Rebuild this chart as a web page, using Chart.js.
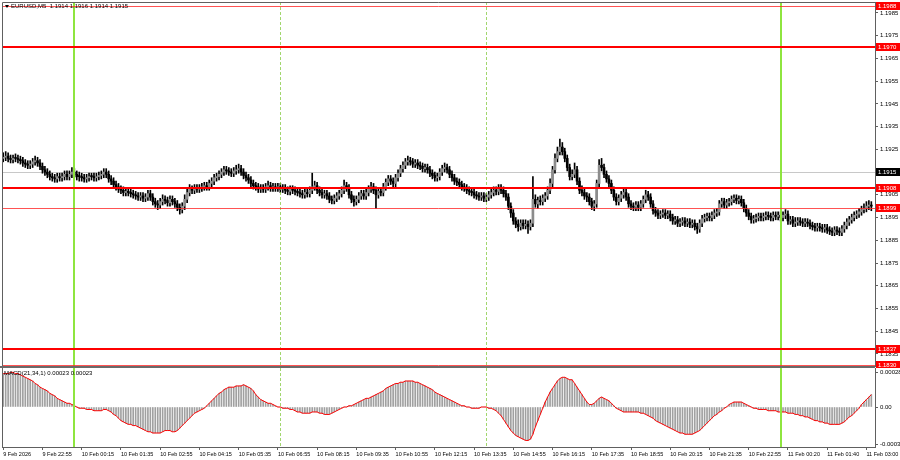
<!DOCTYPE html>
<html>
<head>
<meta charset="utf-8">
<script src="https://cdn.jsdelivr.net/npm/chart.js@4.4.1/dist/chart.umd.min.js"></script>
<style>
  html, body { margin: 0; padding: 0; background: #fff; }
  #wrap { position: relative; width: 900px; height: 460px; overflow: hidden; }
  #price-box { position: absolute; left: 0; top: 0; width: 900px; height: 368px; }
  #macd-box { position: absolute; left: 0; top: 366px; width: 900px; height: 94px; }
</style>
</head>
<body>
<div id="wrap">
  <div id="price-box"><canvas id="price-chart"></canvas></div>
  <div id="macd-box"><canvas id="macd-chart"></canvas></div>
</div>
<script>
const timeLabels = ['9 Feb 2026', '9 Feb 22:55', '10 Feb 00:15', '10 Feb 01:35', '10 Feb 02:55', '10 Feb 04:15',
    '10 Feb 05:35', '10 Feb 06:55', '10 Feb 08:15', '10 Feb 09:35', '10 Feb 10:55', '10 Feb 12:15', '10 Feb 13:35',
    '10 Feb 14:55', '10 Feb 16:15', '10 Feb 17:35', '10 Feb 18:55', '10 Feb 20:15', '10 Feb 21:35', '10 Feb 22:55',
    '11 Feb 00:20', '11 Feb 01:40', '11 Feb 03:00'];
const barsPerLabel = 16;

const priceTicks = [1.1835, 1.1845, 1.1855, 1.1865, 1.1875, 1.1885, 1.1895, 1.1905, 1.1915, 1.1925,
    1.1935, 1.1945, 1.1955, 1.1965, 1.1975, 1.1985];
const levels = [1.1988, 1.1970, 1.1908, 1.1899, 1.1837, 1.1830];
const lastPrice = 1.1915;
const midnightBars = [29, 317];
const sessionBars = [113, 197];

const macdTicks = [0.00028, 0, -0.0003];
const macdTickLabels = ['0.00028', '0.00', '-0.0003'];

const symbolTitle = 'EURUSD,M5  1.1914 1.1916 1.1914 1.1915';
const macdTitle = 'MACD(21,34,1) 0.00023 0.00023';

// M5 candles, 9 Feb 21:35 .. 11 Feb 03:10
const open = [
    1.1921, 1.19215, 1.1922, 1.1921, 1.19205, 1.1921, 1.1921, 1.19205, 1.192, 1.1919, 1.19185, 1.1918, 1.19185, 1.19195, 1.192, 1.1919,
    1.19175, 1.1916, 1.1915, 1.1914, 1.1913, 1.19125, 1.1912, 1.1913, 1.19125, 1.1913, 1.1914, 1.1913, 1.1914, 1.1915, 1.1914, 1.1913,
    1.1913, 1.19125, 1.1912, 1.19125, 1.1913, 1.1913, 1.19125, 1.1913, 1.19135, 1.1914, 1.1915, 1.1914, 1.1912, 1.1911, 1.19095, 1.19085,
    1.19075, 1.1907, 1.1906, 1.19065, 1.1906, 1.19055, 1.1905, 1.19045, 1.1904, 1.19045, 1.19035, 1.1904, 1.19055, 1.1904, 1.1902, 1.1901,
    1.19005, 1.1902, 1.1903, 1.19025, 1.19015, 1.1903, 1.1902, 1.1901, 1.18995, 1.18985, 1.19, 1.1903, 1.1906, 1.19075, 1.1907, 1.1908,
    1.19075, 1.1908, 1.19085, 1.1909, 1.19085, 1.191, 1.1911, 1.19125, 1.1913, 1.1914, 1.1915, 1.1916, 1.19155, 1.1915, 1.19145, 1.19155,
    1.1916, 1.19165, 1.1915, 1.19135, 1.19125, 1.19115, 1.191, 1.1909, 1.19085, 1.19075, 1.1908, 1.19075, 1.19085, 1.1909, 1.1908, 1.19085,
    1.1908, 1.19085, 1.19075, 1.1908, 1.1907, 1.19065, 1.19075, 1.1907, 1.19065, 1.1906, 1.19055, 1.1905, 1.1906, 1.19055, 1.1907, 1.19085,
    1.1909, 1.1907, 1.1906, 1.1905, 1.19055, 1.19045, 1.1903, 1.19025, 1.19035, 1.19045, 1.19055, 1.1907, 1.1909, 1.1908, 1.1905, 1.1903,
    1.1902, 1.1903, 1.19045, 1.19055, 1.19045, 1.1906, 1.19075, 1.19085, 1.1907, 1.1905, 1.19065, 1.1906, 1.19085, 1.19105, 1.1912, 1.1911,
    1.191, 1.19125, 1.19145, 1.19165, 1.1918, 1.19195, 1.192, 1.19195, 1.19185, 1.1919, 1.1918, 1.19175, 1.19165, 1.1917, 1.1916, 1.19145,
    1.19135, 1.19125, 1.1913, 1.1915, 1.19165, 1.1917, 1.1916, 1.1914, 1.19125, 1.1911, 1.19105, 1.19095, 1.19085, 1.1908, 1.1907, 1.19065,
    1.1906, 1.1905, 1.19045, 1.1904, 1.19045, 1.19035, 1.1904, 1.1905, 1.1906, 1.1907, 1.19065, 1.1908, 1.1907, 1.19055, 1.1904, 1.19,
    1.1897, 1.18935, 1.1892, 1.1891, 1.18925, 1.18915, 1.1892, 1.1891, 1.18925, 1.1903, 1.1901, 1.19025, 1.1902, 1.19035, 1.19045, 1.1907,
    1.191, 1.1916, 1.1921, 1.1924, 1.1926, 1.1924, 1.1921, 1.1917, 1.1913, 1.1914, 1.1916, 1.1911, 1.1907, 1.1906, 1.19045, 1.1904,
    1.1902, 1.19, 1.1901, 1.191, 1.1918, 1.1917, 1.1914, 1.1912, 1.191, 1.1907, 1.1904, 1.1902, 1.19035, 1.1905, 1.1906, 1.1904,
    1.1901, 1.19, 1.18995, 1.19005, 1.18995, 1.1901, 1.1903, 1.1905, 1.1904, 1.1901, 1.1898, 1.1897, 1.1896, 1.18965, 1.1897, 1.1896,
    1.18965, 1.1895, 1.18935, 1.1894, 1.18925, 1.1893, 1.18935, 1.18925, 1.1893, 1.1892, 1.18925, 1.1891, 1.189, 1.18925, 1.18945, 1.1895,
    1.18955, 1.1895, 1.1896, 1.1897, 1.18975, 1.1901, 1.1902, 1.19005, 1.19015, 1.1902, 1.1903, 1.19035, 1.19025, 1.1903, 1.19015, 1.1899,
    1.1897, 1.18955, 1.1894, 1.18945, 1.1895, 1.18955, 1.1895, 1.18955, 1.1896, 1.18955, 1.1895, 1.1896, 1.18955, 1.1896, 1.1895, 1.1896,
    1.18965, 1.18935, 1.1894, 1.18925, 1.1893, 1.18935, 1.1893, 1.18925, 1.1893, 1.18925, 1.18915, 1.1891, 1.18905, 1.1891, 1.18905, 1.189,
    1.18905, 1.18895, 1.1889, 1.18885, 1.18895, 1.1889, 1.18885, 1.189, 1.18915, 1.1893, 1.1894, 1.1895, 1.1896, 1.18965, 1.18975, 1.18985,
    1.1899, 1.19, 1.19005
];
const high = [
    1.19235, 1.1924, 1.19235, 1.19225, 1.19225, 1.1923, 1.19225, 1.1922, 1.19215, 1.19205, 1.192, 1.192, 1.1921, 1.1922, 1.19215, 1.19205,
    1.1919, 1.19175, 1.19165, 1.19155, 1.19145, 1.1914, 1.19145, 1.19145, 1.19145, 1.19155, 1.19155, 1.19155, 1.1917, 1.19165, 1.19155, 1.1915,
    1.19145, 1.1914, 1.1914, 1.19145, 1.19145, 1.19145, 1.19145, 1.1915, 1.19155, 1.19165, 1.19165, 1.19155, 1.19135, 1.19125, 1.1911, 1.191,
    1.1909, 1.19085, 1.1908, 1.1908, 1.19075, 1.1907, 1.19065, 1.1906, 1.1906, 1.1906, 1.19055, 1.1907, 1.1907, 1.19055, 1.19035, 1.19025,
    1.19035, 1.1905, 1.19045, 1.1904, 1.19045, 1.19045, 1.19035, 1.19025, 1.1901, 1.19015, 1.1905, 1.1908, 1.19095, 1.1909, 1.19095, 1.19095,
    1.19095, 1.191, 1.19105, 1.19105, 1.19115, 1.19125, 1.1914, 1.19145, 1.19155, 1.19165, 1.19175, 1.19175, 1.1917, 1.19165, 1.1917, 1.1918,
    1.19185, 1.1918, 1.19165, 1.1915, 1.1914, 1.1913, 1.19115, 1.19105, 1.191, 1.19095, 1.19095, 1.191, 1.1911, 1.19105, 1.191, 1.191,
    1.191, 1.191, 1.19095, 1.19095, 1.19085, 1.1909, 1.1909, 1.19085, 1.1908, 1.19075, 1.1907, 1.19075, 1.19075, 1.19085, 1.19145, 1.1911,
    1.19105, 1.19085, 1.19075, 1.1907, 1.1907, 1.1906, 1.19045, 1.1905, 1.1906, 1.1907, 1.19085, 1.19115, 1.19105, 1.19095, 1.19065, 1.19045,
    1.19045, 1.1906, 1.1907, 1.1907, 1.19075, 1.1909, 1.19105, 1.191, 1.19085, 1.1908, 1.1908, 1.191, 1.1912, 1.19135, 1.19135, 1.19125,
    1.1914, 1.1916, 1.1918, 1.19195, 1.1921, 1.1922, 1.19215, 1.1921, 1.19205, 1.19205, 1.19195, 1.1919, 1.19185, 1.19185, 1.19175, 1.1916,
    1.1915, 1.19145, 1.19165, 1.1918, 1.1919, 1.19185, 1.19175, 1.19155, 1.1914, 1.19125, 1.1912, 1.1911, 1.191, 1.19095, 1.19085, 1.1908,
    1.19075, 1.19065, 1.1906, 1.1906, 1.1906, 1.19055, 1.19065, 1.19075, 1.19085, 1.19085, 1.19095, 1.19095, 1.19085, 1.1907, 1.19055, 1.19015,
    1.18985, 1.1895, 1.1894, 1.1894, 1.1894, 1.1894, 1.18935, 1.1894, 1.1913, 1.1905, 1.1904, 1.19045, 1.1905, 1.1906, 1.19085, 1.1912,
    1.19175, 1.1923, 1.1926, 1.19295, 1.1928, 1.19255, 1.19225, 1.19185, 1.1916, 1.1919, 1.19175, 1.19125, 1.1909, 1.19075, 1.1906, 1.19055,
    1.19035, 1.19025, 1.19115, 1.19205, 1.1921, 1.19185, 1.19155, 1.19135, 1.19115, 1.19085, 1.19055, 1.1905, 1.19065, 1.19075, 1.19075, 1.19055,
    1.19025, 1.19015, 1.1902, 1.1902, 1.19025, 1.19045, 1.1907, 1.19065, 1.19055, 1.19025, 1.18995, 1.18985, 1.1898, 1.18985, 1.18985, 1.1898,
    1.1898, 1.18965, 1.18955, 1.18955, 1.18945, 1.1895, 1.1895, 1.18945, 1.18945, 1.1894, 1.1894, 1.18925, 1.1894, 1.1896, 1.18965, 1.1897,
    1.1897, 1.18975, 1.18985, 1.1899, 1.19025, 1.19035, 1.19035, 1.1903, 1.19035, 1.19045, 1.1905, 1.1905, 1.19045, 1.19045, 1.1903, 1.19005,
    1.18985, 1.1897, 1.1896, 1.18965, 1.1897, 1.1897, 1.1897, 1.18975, 1.18975, 1.1897, 1.18975, 1.18975, 1.18975, 1.18975, 1.18975, 1.18985,
    1.1898, 1.18955, 1.18955, 1.1895, 1.1895, 1.1895, 1.18945, 1.18945, 1.18945, 1.1894, 1.1893, 1.18925, 1.18925, 1.18925, 1.1892, 1.1892,
    1.1892, 1.1891, 1.18905, 1.1891, 1.1891, 1.18905, 1.18915, 1.1893, 1.18945, 1.18955, 1.18965, 1.18975, 1.1898, 1.1899, 1.19, 1.1901,
    1.1902, 1.19025, 1.1902
];
const low = [
    1.19195, 1.192, 1.19195, 1.1919, 1.1919, 1.19195, 1.1919, 1.19185, 1.19175, 1.1917, 1.19165, 1.19165, 1.1917, 1.1918, 1.19175, 1.1916,
    1.19145, 1.19135, 1.19125, 1.19115, 1.1911, 1.19105, 1.19105, 1.1911, 1.1911, 1.19115, 1.19115, 1.19115, 1.19125, 1.19125, 1.19115, 1.1911,
    1.1911, 1.19105, 1.19105, 1.1911, 1.19115, 1.1911, 1.1911, 1.19115, 1.1912, 1.19125, 1.19125, 1.19105, 1.19095, 1.1908, 1.1907, 1.1906,
    1.19055, 1.19045, 1.19045, 1.19045, 1.1904, 1.19035, 1.1903, 1.19025, 1.19025, 1.1902, 1.1902, 1.19025, 1.19025, 1.19005, 1.18995, 1.18985,
    1.1899, 1.19005, 1.1901, 1.19, 1.19, 1.19005, 1.18995, 1.1898, 1.18965, 1.1897, 1.18985, 1.19015, 1.19045, 1.19055, 1.19055, 1.1906,
    1.1906, 1.19065, 1.1907, 1.1907, 1.1907, 1.19085, 1.19095, 1.1911, 1.19115, 1.19125, 1.19135, 1.1914, 1.19135, 1.1913, 1.1913, 1.1914,
    1.19145, 1.19135, 1.1912, 1.1911, 1.191, 1.19085, 1.19075, 1.1907, 1.1906, 1.1906, 1.1906, 1.1906, 1.1907, 1.19065, 1.19065, 1.19065,
    1.19065, 1.1906, 1.1906, 1.19055, 1.1905, 1.1905, 1.19055, 1.1905, 1.19045, 1.1904, 1.19035, 1.19035, 1.1904, 1.1904, 1.19055, 1.1907,
    1.19055, 1.19045, 1.19035, 1.19035, 1.1903, 1.19015, 1.1901, 1.1901, 1.1902, 1.1903, 1.1904, 1.19055, 1.19065, 1.19035, 1.19015, 1.19,
    1.19005, 1.19015, 1.1903, 1.1903, 1.1903, 1.19045, 1.1906, 1.19055, 1.1899, 1.19035, 1.19045, 1.19045, 1.1907, 1.1909, 1.19095, 1.19085,
    1.19085, 1.1911, 1.1913, 1.1915, 1.19165, 1.1918, 1.1918, 1.1917, 1.1917, 1.19165, 1.1916, 1.1915, 1.1915, 1.19145, 1.1913, 1.1912,
    1.1911, 1.1911, 1.19115, 1.19135, 1.1915, 1.19145, 1.19125, 1.1911, 1.19095, 1.1909, 1.1908, 1.1907, 1.19065, 1.19055, 1.1905, 1.19045,
    1.19035, 1.1903, 1.19025, 1.19025, 1.1902, 1.1902, 1.19025, 1.19035, 1.19045, 1.1905, 1.1905, 1.19055, 1.1904, 1.19025, 1.18985, 1.1895,
    1.1892, 1.18905, 1.1889, 1.18895, 1.189, 1.189, 1.1888, 1.18895, 1.1891, 1.18995, 1.1899, 1.19005, 1.19005, 1.1902, 1.1903, 1.19055,
    1.19085, 1.19145, 1.19195, 1.19225, 1.19225, 1.19195, 1.19155, 1.19115, 1.19115, 1.19125, 1.19095, 1.19055, 1.19045, 1.1903, 1.1902, 1.19005,
    1.18985, 1.1898, 1.18995, 1.19085, 1.19155, 1.19125, 1.19105, 1.19085, 1.19055, 1.19025, 1.19005, 1.19005, 1.1902, 1.19035, 1.19025, 1.18995,
    1.18985, 1.1898, 1.1898, 1.1898, 1.1898, 1.18995, 1.19015, 1.19025, 1.18995, 1.18965, 1.18955, 1.18945, 1.18945, 1.1895, 1.18945, 1.18945,
    1.18935, 1.1892, 1.1892, 1.1891, 1.1891, 1.18915, 1.1891, 1.1891, 1.18905, 1.18905, 1.18895, 1.1888, 1.18885, 1.1891, 1.1893, 1.18935,
    1.18935, 1.18935, 1.18945, 1.18955, 1.1896, 1.18995, 1.1899, 1.1899, 1.19, 1.19005, 1.19015, 1.1901, 1.1901, 1.19, 1.18975, 1.18955,
    1.1894, 1.18925, 1.18925, 1.1893, 1.18935, 1.18935, 1.18935, 1.1894, 1.1894, 1.18935, 1.18935, 1.1894, 1.1894, 1.18935, 1.18935, 1.18945,
    1.1892, 1.1892, 1.1891, 1.1891, 1.18915, 1.18915, 1.1891, 1.1891, 1.1891, 1.189, 1.18895, 1.1889, 1.1889, 1.1889, 1.18885, 1.18885,
    1.1888, 1.18875, 1.1887, 1.1887, 1.18875, 1.1887, 1.1887, 1.18885, 1.189, 1.18915, 1.18925, 1.18935, 1.18945, 1.1895, 1.1896, 1.1897,
    1.18975, 1.18985, 1.1898
];
const close = [
    1.19215, 1.1922, 1.1921, 1.19205, 1.1921, 1.1921, 1.19205, 1.192, 1.1919, 1.19185, 1.1918, 1.19185, 1.19195, 1.192, 1.1919, 1.19175,
    1.1916, 1.1915, 1.1914, 1.1913, 1.19125, 1.1912, 1.1913, 1.19125, 1.1913, 1.1914, 1.1913, 1.1914, 1.1915, 1.1914, 1.1913, 1.1913,
    1.19125, 1.1912, 1.19125, 1.1913, 1.1913, 1.19125, 1.1913, 1.19135, 1.1914, 1.1915, 1.1914, 1.1912, 1.1911, 1.19095, 1.19085, 1.19075,
    1.1907, 1.1906, 1.19065, 1.1906, 1.19055, 1.1905, 1.19045, 1.1904, 1.19045, 1.19035, 1.1904, 1.19055, 1.1904, 1.1902, 1.1901, 1.19005,
    1.1902, 1.1903, 1.19025, 1.19015, 1.1903, 1.1902, 1.1901, 1.18995, 1.18985, 1.19, 1.1903, 1.1906, 1.19075, 1.1907, 1.1908, 1.19075,
    1.1908, 1.19085, 1.1909, 1.19085, 1.191, 1.1911, 1.19125, 1.1913, 1.1914, 1.1915, 1.1916, 1.19155, 1.1915, 1.19145, 1.19155, 1.1916,
    1.19165, 1.1915, 1.19135, 1.19125, 1.19115, 1.191, 1.1909, 1.19085, 1.19075, 1.1908, 1.19075, 1.19085, 1.1909, 1.1908, 1.19085, 1.1908,
    1.19085, 1.19075, 1.1908, 1.1907, 1.19065, 1.19075, 1.1907, 1.19065, 1.1906, 1.19055, 1.1905, 1.1906, 1.19055, 1.1907, 1.19085, 1.1909,
    1.1907, 1.1906, 1.1905, 1.19055, 1.19045, 1.1903, 1.19025, 1.19035, 1.19045, 1.19055, 1.1907, 1.1909, 1.1908, 1.1905, 1.1903, 1.1902,
    1.1903, 1.19045, 1.19055, 1.19045, 1.1906, 1.19075, 1.19085, 1.1907, 1.1905, 1.19065, 1.1906, 1.19085, 1.19105, 1.1912, 1.1911, 1.191,
    1.19125, 1.19145, 1.19165, 1.1918, 1.19195, 1.192, 1.19195, 1.19185, 1.1919, 1.1918, 1.19175, 1.19165, 1.1917, 1.1916, 1.19145, 1.19135,
    1.19125, 1.1913, 1.1915, 1.19165, 1.1917, 1.1916, 1.1914, 1.19125, 1.1911, 1.19105, 1.19095, 1.19085, 1.1908, 1.1907, 1.19065, 1.1906,
    1.1905, 1.19045, 1.1904, 1.19045, 1.19035, 1.1904, 1.1905, 1.1906, 1.1907, 1.19065, 1.1908, 1.1907, 1.19055, 1.1904, 1.19, 1.1897,
    1.18935, 1.1892, 1.1891, 1.18925, 1.18915, 1.1892, 1.1891, 1.18925, 1.1903, 1.1901, 1.19025, 1.1902, 1.19035, 1.19045, 1.1907, 1.191,
    1.1916, 1.1921, 1.1924, 1.1926, 1.1924, 1.1921, 1.1917, 1.1913, 1.1914, 1.1916, 1.1911, 1.1907, 1.1906, 1.19045, 1.1904, 1.1902,
    1.19, 1.1901, 1.191, 1.1918, 1.1917, 1.1914, 1.1912, 1.191, 1.1907, 1.1904, 1.1902, 1.19035, 1.1905, 1.1906, 1.1904, 1.1901,
    1.19, 1.18995, 1.19005, 1.18995, 1.1901, 1.1903, 1.1905, 1.1904, 1.1901, 1.1898, 1.1897, 1.1896, 1.18965, 1.1897, 1.1896, 1.18965,
    1.1895, 1.18935, 1.1894, 1.18925, 1.1893, 1.18935, 1.18925, 1.1893, 1.1892, 1.18925, 1.1891, 1.189, 1.18925, 1.18945, 1.1895, 1.18955,
    1.1895, 1.1896, 1.1897, 1.18975, 1.1901, 1.1902, 1.19005, 1.19015, 1.1902, 1.1903, 1.19035, 1.19025, 1.1903, 1.19015, 1.1899, 1.1897,
    1.18955, 1.1894, 1.18945, 1.1895, 1.18955, 1.1895, 1.18955, 1.1896, 1.18955, 1.1895, 1.1896, 1.18955, 1.1896, 1.1895, 1.1896, 1.18965,
    1.18935, 1.1894, 1.18925, 1.1893, 1.18935, 1.1893, 1.18925, 1.1893, 1.18925, 1.18915, 1.1891, 1.18905, 1.1891, 1.18905, 1.189, 1.18905,
    1.18895, 1.1889, 1.18885, 1.18895, 1.1889, 1.18885, 1.189, 1.18915, 1.1893, 1.1894, 1.1895, 1.1896, 1.18965, 1.18975, 1.18985, 1.1899,
    1.19, 1.19005, 1.19
];
const macd = [
    0.00027, 0.00027, 0.00027, 0.00028, 0.00028, 0.00027, 0.00027, 0.00026, 0.00025, 0.00024, 0.00023, 0.00022, 0.00021, 0.00019, 0.00018, 0.00016,
    0.00015, 0.00014, 0.00013, 0.00011, 0.0001, 0.00009, 0.00007, 0.00006, 0.00005, 0.00004, 0.00003, 0.00003, 0.00002, 0.00001, 0, -0.00001,
    -0.00001, -0.00001, -0.00002, -0.00002, -0.00002, -0.00003, -0.00003, -0.00003, -0.00003, -0.00002, -0.00002, -0.00003, -0.00004, -0.00006, -0.00007, -0.00009,
    -0.00011, -0.00012, -0.00013, -0.00014, -0.00014, -0.00015, -0.00015, -0.00016, -0.00017, -0.00018, -0.00019, -0.0002, -0.0002, -0.00021, -0.00021, -0.00021,
    -0.00021, -0.0002, -0.00019, -0.00019, -0.00019, -0.0002, -0.0002, -0.00019, -0.00017, -0.00015, -0.00013, -0.00011, -0.00009, -0.00007, -0.00005, -0.00004,
    -0.00003, -0.00002, -0.00001, 0.00001, 0.00003, 0.00005, 0.00007, 0.00009, 0.00011, 0.00012, 0.00014, 0.00015, 0.00016, 0.00016, 0.00016, 0.00017,
    0.00017, 0.00017, 0.00018, 0.00017, 0.00016, 0.00015, 0.00013, 0.0001, 0.00008, 0.00006, 0.00005, 0.00004, 0.00003, 0.00003, 0.00002, 0.00001,
    0, 0, -0.00001, -0.00001, -0.00001, -0.00002, -0.00002, -0.00003, -0.00004, -0.00004, -0.00005, -0.00005, -0.00005, -0.00005, -0.00004, -0.00004,
    -0.00004, -0.00005, -0.00005, -0.00006, -0.00006, -0.00006, -0.00005, -0.00004, -0.00003, -0.00002, -0.00001, 0, 0, 0.00001, 0.00001, 0.00002,
    0.00003, 0.00004, 0.00005, 0.00006, 0.00007, 0.00007, 0.00008, 0.00009, 0.0001, 0.00011, 0.00012, 0.00013, 0.00015, 0.00016, 0.00017, 0.00018,
    0.00019, 0.00019, 0.0002, 0.0002, 0.00021, 0.00021, 0.00021, 0.00021, 0.0002, 0.0002, 0.00019, 0.00018, 0.00017, 0.00016, 0.00015, 0.00014,
    0.00012, 0.00011, 0.0001, 0.00009, 0.00008, 0.00007, 0.00006, 0.00005, 0.00004, 0.00003, 0.00002, 0.00001, 0.00001, 0, 0, -0.00001,
    -0.00001, -0.00001, -0.00001, 0, 0, 0, -0.00001, -0.00001, -0.00002, -0.00003, -0.00005, -0.00007, -0.0001, -0.00013, -0.00016, -0.00019,
    -0.00021, -0.00023, -0.00024, -0.00025, -0.00026, -0.00027, -0.00027, -0.00026, -0.00022, -0.00016, -0.00011, -0.00006, -0.00001, 0.00004, 0.00008, 0.00012,
    0.00015, 0.00018, 0.00021, 0.00023, 0.00024, 0.00024, 0.00023, 0.00022, 0.00022, 0.00019, 0.00016, 0.00013, 0.0001, 0.00007, 0.00004, 0.00002,
    0.00002, 0.00003, 0.00005, 0.00007, 0.00008, 0.00007, 0.00006, 0.00005, 0.00003, 0.00001, -0.00001, -0.00002, -0.00003, -0.00004, -0.00004, -0.00004,
    -0.00004, -0.00004, -0.00004, -0.00004, -0.00005, -0.00005, -0.00006, -0.00007, -0.00008, -0.00009, -0.00011, -0.00012, -0.00013, -0.00014, -0.00015, -0.00016,
    -0.00017, -0.00018, -0.00019, -0.0002, -0.00021, -0.00021, -0.00022, -0.00022, -0.00022, -0.00022, -0.00021, -0.0002, -0.00019, -0.00017, -0.00015, -0.00013,
    -0.00011, -0.00009, -0.00007, -0.00006, -0.00004, -0.00003, -0.00001, 0, 0.00002, 0.00003, 0.00004, 0.00004, 0.00004, 0.00004, 0.00003, 0.00002,
    0.00001, 0, -0.00001, -0.00001, -0.00002, -0.00002, -0.00002, -0.00002, -0.00003, -0.00003, -0.00003, -0.00003, -0.00004, -0.00004, -0.00004, -0.00004,
    -0.00005, -0.00005, -0.00005, -0.00006, -0.00006, -0.00007, -0.00007, -0.00008, -0.00008, -0.00009, -0.0001, -0.00011, -0.00011, -0.00012, -0.00012, -0.00013,
    -0.00013, -0.00014, -0.00014, -0.00014, -0.00014, -0.00014, -0.00013, -0.00012, -0.0001, -0.00008, -0.00007, -0.00005, -0.00003, -0.00001, 0.00002, 0.00004,
    0.00006, 0.00008, 0.0001
];

const FONT = { family: 'Liberation Sans, Arial, sans-serif', size: 6 };
const TIME_FONT = { family: 'Liberation Sans, Arial, sans-serif', size: 5.5 };
const FRAME = '#606060';
const xMax = close.length + 0.5;

function vline(ctx, x, top, bottom) {
    ctx.beginPath();
    ctx.moveTo(x, top);
    ctx.lineTo(x, bottom);
    ctx.stroke();
}

function drawTimeMarks(chart) {
    const { ctx, chartArea: a, scales: { x } } = chart;
    ctx.save();
    ctx.strokeStyle = 'rgba(130, 200, 60, 0.75)';
    ctx.lineWidth = 1;
    ctx.setLineDash([3, 2]);
    sessionBars.forEach(b => vline(ctx, Math.round(x.getPixelForValue(b)) + 0.5, a.top, a.bottom));
    ctx.setLineDash([]);
    ctx.strokeStyle = '#8ee53f';
    ctx.lineWidth = 2;
    midnightBars.forEach(b => vline(ctx, Math.round(x.getPixelForValue(b)), a.top, a.bottom));
    ctx.restore();
}

function priceBox(ctx, a, py, text, bg) {
    ctx.fillStyle = bg;
    ctx.fillRect(a.right + 1, py - 4, 24, 8);
    ctx.fillStyle = '#fff';
    ctx.font = '6px Liberation Sans, Arial, sans-serif';
    ctx.textBaseline = 'middle';
    ctx.textAlign = 'left';
    ctx.fillText(text, a.right + 3, py + 0.5);
}

const priceOverlay = {
    id: 'priceOverlay',
    beforeDatasetsDraw(chart) {
        const { ctx, chartArea: a, scales: { y } } = chart;
        const py = Math.round(y.getPixelForValue(lastPrice)) + 0.5;
        ctx.save();
        ctx.strokeStyle = '#c8c8c8';
        ctx.lineWidth = 1;
        ctx.beginPath();
        ctx.moveTo(a.left, py);
        ctx.lineTo(a.right, py);
        ctx.stroke();
        ctx.restore();
    },
    afterDatasetsDraw(chart) {
        const { ctx, chartArea: a, scales: { y } } = chart;
        drawTimeMarks(chart);
        ctx.save();
        levels.forEach((lv, k) => {
            const thick = [false, true, true, false, true, false][k];
            const py = y.getPixelForValue(lv);
            ctx.strokeStyle = thick ? '#ff0000' : 'rgba(255, 40, 40, 0.8)';
            ctx.lineWidth = thick ? 2 : 1;
            ctx.beginPath();
            ctx.moveTo(a.left, thick ? Math.round(py) : Math.round(py) + 0.5);
            ctx.lineTo(a.right, thick ? Math.round(py) : Math.round(py) + 0.5);
            ctx.stroke();
        });
        // frame
        ctx.strokeStyle = FRAME;
        ctx.lineWidth = 1;
        ctx.beginPath();
        ctx.moveTo(a.left + 0.5, a.bottom);
        ctx.lineTo(a.left + 0.5, a.top + 0.5);
        ctx.lineTo(a.right, a.top + 0.5);
        ctx.stroke();
        ctx.restore();
    },
    afterDraw(chart) {
        const { ctx, chartArea: a, scales: { y } } = chart;
        ctx.save();
        levels.forEach(lv => priceBox(ctx, a, Math.round(y.getPixelForValue(lv)), lv.toFixed(4), '#ff0000'));
        priceBox(ctx, a, Math.round(y.getPixelForValue(lastPrice)), lastPrice.toFixed(4), '#000');

        ctx.fillStyle = '#000';
        ctx.beginPath();
        ctx.moveTo(a.left + 3, a.top + 3);
        ctx.lineTo(a.left + 7, a.top + 3);
        ctx.lineTo(a.left + 5, a.top + 6);
        ctx.closePath();
        ctx.fill();
        ctx.font = '6px Liberation Sans, Arial, sans-serif';
        ctx.textBaseline = 'middle';
        ctx.textAlign = 'left';
        ctx.fillText(symbolTitle, a.left + 9, a.top + 4.5);
        ctx.restore();
    }
};

const macdOverlay = {
    id: 'macdOverlay',
    beforeDraw(chart) {
        const { ctx, chartArea: a } = chart;
        ctx.save();
        ctx.fillStyle = '#6a6a6a';
        ctx.fillRect(0, 0, a.right, a.top);
        ctx.restore();
    },
    afterDatasetsDraw(chart) {
        const { ctx, chartArea: a } = chart;
        drawTimeMarks(chart);
        ctx.save();
        ctx.strokeStyle = FRAME;
        ctx.lineWidth = 1;
        vline(ctx, a.left + 0.5, a.top, a.bottom);
        ctx.fillStyle = '#000';
        ctx.font = '6px Liberation Sans, Arial, sans-serif';
        ctx.textBaseline = 'middle';
        ctx.textAlign = 'left';
        ctx.fillText(macdTitle, a.left + 2, a.top + 5);
        ctx.restore();
    }
};

const candleBodies = close.map((c, i) => ({ x: i, y: [open[i], c] }));
const candleWicks = close.map((c, i) => ({ x: i, y: [low[i], high[i]] }));
const bodyColors = close.map((c, i) => c > open[i] ? '#8c8c8c' : '#000');

new Chart(document.getElementById('price-chart'), {
    type: 'bar',
    data: {
        datasets: [
            { label: 'body', data: candleBodies, backgroundColor: bodyColors, barThickness: 2, minBarLength: 1, grouped: false },
            { label: 'wick', data: candleWicks, backgroundColor: '#000', barThickness: 1, grouped: false }
        ]
    },
    options: {
        responsive: true,
        maintainAspectRatio: false,
        animation: false,
        layout: { padding: { left: 2, top: 2, right: 0, bottom: 2 } },
        plugins: { legend: { display: false }, tooltip: { enabled: false } },
        scales: {
            x: { type: 'linear', display: false, min: -0.5, max: xMax, offset: false },
            y: {
                position: 'right',
                min: 1.18297,
                max: 1.19898,
                beginAtZero: false,
                afterBuildTicks: s => { s.ticks = priceTicks.map(v => ({ value: v })); },
                afterFit: s => { s.width = 25; s.paddingTop = 0; s.paddingBottom = 0; },
                ticks: { font: FONT, color: '#000', padding: 2, autoSkip: false, callback: v => v.toFixed(4) },
                grid: { drawOnChartArea: false, tickLength: 3, color: FRAME },
                border: { color: FRAME }
            }
        }
    },
    plugins: [priceOverlay]
});

const macdPoints = macd.map((v, i) => ({ x: i, y: v }));

new Chart(document.getElementById('macd-chart'), {
    type: 'bar',
    data: {
        datasets: [
            { type: 'line', label: 'signal', data: macdPoints, borderColor: '#ff0000', borderWidth: 1, pointRadius: 0, tension: 0 },
            { label: 'macd', data: macdPoints, backgroundColor: '#a0a0a0', barThickness: 1, grouped: false }
        ]
    },
    options: {
        responsive: true,
        maintainAspectRatio: false,
        animation: false,
        layout: { padding: { left: 2, top: 2, right: 0, bottom: 0 } },
        plugins: { legend: { display: false }, tooltip: { enabled: false } },
        scales: {
            x: {
                type: 'linear',
                min: -0.5,
                max: xMax,
                offset: false,
                afterBuildTicks: s => { s.ticks = timeLabels.map((t, k) => ({ value: k * barsPerLabel })); },
                afterFit: s => { s.height = 13; s.paddingLeft = 0; s.paddingRight = 0; },
                ticks: { font: TIME_FONT, color: '#000', padding: 1, maxRotation: 0, autoSkip: false, align: 'start',
                    callback: (v, k) => timeLabels[k] },
                grid: { drawOnChartArea: false, offset: false, tickLength: 3, color: FRAME },
                border: { color: FRAME }
            },
            y: {
                position: 'right',
                min: -0.000323,
                max: 0.000315,
                beginAtZero: false,
                afterBuildTicks: s => { s.ticks = macdTicks.map(v => ({ value: v })); },
                afterFit: s => { s.width = 25; s.paddingTop = 0; s.paddingBottom = 0; },
                ticks: { font: FONT, color: '#000', padding: 2, autoSkip: false, callback: (v, k) => macdTickLabels[k] },
                grid: { drawOnChartArea: false, tickLength: 3, color: FRAME },
                border: { color: FRAME }
            }
        }
    },
    plugins: [macdOverlay]
});
</script>
</body>
</html>
